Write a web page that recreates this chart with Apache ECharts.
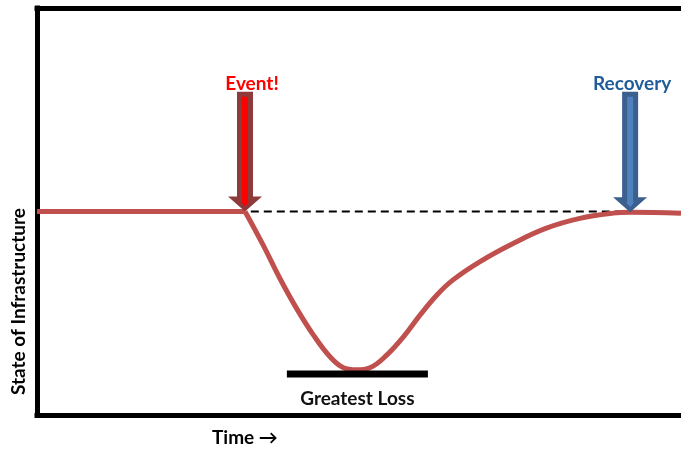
<!DOCTYPE html>
<html>
<head>
<meta charset="utf-8">
<script src="https://cdn.jsdelivr.net/npm/echarts@6/dist/echarts.min.js"></script>
<style>
  html, body { margin: 0; padding: 0; background: #fff; }
  #chart { width: 681px; height: 450px; }
</style>
</head>
<body>
<div id="chart"></div>
<script>
// time runs 0..100 across the plot, state 0..100 from bottom to top
const baseTime = [0, 32.3];
const baseState = [50, 50];

const curveTime = [32.3, 35.1, 37.7, 40.3, 42.9, 45.5, 47.6, 49.6, 51.7, 54.3, 56.9, 59.5, 62.1, 64.6, 68.8, 74.0, 79.1, 84.3, 89.5, 92.1, 100];
const curveState = [50, 41.8, 33.6, 26.2, 19.7, 14.3, 11.6, 11.1, 11.6, 14.7, 19.2, 24.6, 29.5, 33.2, 37.7, 42.2, 45.9, 48.3, 49.6, 49.8, 49.6];

const dashTime = [33.2, 91.5];
const dashState = [50, 50];

const arrowNames = ['Event!', 'Recovery'];
const arrowTime = [32.3, 92.1];
const arrowTop = [79.4, 79.4];
const arrowTip = [50, 49.8];

const lossName = 'Greatest Loss';
const lossFrom = 38.8;
const lossTo = 60.7;
const lossLevel = 10.1;

const arrowColors = [
  { outer: '#8e3a3a', inner: '#ff0000', text: '#ff0000', dx: 7 },
  { outer: '#3b5f8f', inner: '#4f81bd', text: '#1f5c99', dx: 2 }
];

const font = 'Lato, "Open Sans", sans-serif';

const chart = echarts.init(document.getElementById('chart'));

const axisLine = { show: true, lineStyle: { color: '#000', width: 5, cap: 'square' } };

chart.setOption({
  animation: false,
  grid: { left: 37, right: 0, top: 8, bottom: 35 },
  xAxis: [
    { type: 'value', min: 0, max: 100, axisLine: axisLine, axisTick: { show: false }, axisLabel: { show: false }, splitLine: { show: false } },
    { type: 'value', min: 0, max: 100, position: 'top', axisLine: axisLine, axisTick: { show: false }, axisLabel: { show: false }, splitLine: { show: false } }
  ],
  yAxis: {
    type: 'value', min: 0, max: 100,
    axisLine: axisLine, axisTick: { show: false }, axisLabel: { show: false }, splitLine: { show: false }
  },
  graphic: [
    {
      type: 'text', left: 9, top: 208,
      rotation: Math.PI / 2,
      style: { text: 'State of Infrastructure', fontFamily: font, fontWeight: 'bold', fontSize: 19, fill: '#000' }
    },
    {
      type: 'text', left: 212, top: 428,
      style: { text: 'Time \u2192', fontFamily: font, fontWeight: 'bold', fontSize: 19, fill: '#000' }
    }
  ],
  series: [
    {
      type: 'line', symbol: 'none', z: 1,
      data: dashTime.map((t, i) => [t, dashState[i]]),
      lineStyle: { color: '#000', width: 2, type: [8, 5] }
    },
    {
      type: 'line', symbol: 'none', z: 3,
      data: baseTime.map((t, i) => [t, baseState[i]]),
      lineStyle: { color: '#c0504d', width: 5 }
    },
    {
      type: 'line', symbol: 'none', z: 3, smooth: 0.4,
      data: curveTime.map((t, i) => [t, curveState[i]]),
      lineStyle: { color: '#c0504d', width: 5 }
    },
    {
      type: 'custom', z: 4,
      data: [[lossFrom, lossTo, lossLevel]],
      renderItem: function (params, api) {
        const a = api.coord([api.value(0), api.value(2)]);
        const b = api.coord([api.value(1), api.value(2)]);
        return {
          type: 'group',
          children: [
            { type: 'rect', shape: { x: a[0], y: a[1] - 3.5, width: b[0] - a[0], height: 7 }, style: { fill: '#000' } },
            { type: 'text', x: (a[0] + b[0]) / 2, y: a[1] + 25,
              style: { text: lossName, fontFamily: font, fontWeight: 'bold', fontSize: 19, fill: '#111', align: 'center', verticalAlign: 'middle' } }
          ]
        };
      }
    },
    {
      type: 'custom', z: 5,
      data: arrowTime.map((t, i) => [t, arrowTop[i], arrowTip[i]]),
      renderItem: function (params, api) {
        const i = params.dataIndex;
        const c = arrowColors[i];
        const top = api.coord([api.value(0), api.value(1)]);
        const tip = api.coord([api.value(0), api.value(2)]);
        const x = tip[0];
        const headY = tip[1] - 15;
        return {
          type: 'group',
          children: [
            { type: 'polygon',
              shape: { points: [[x, tip[1]], [x + 17, headY], [x + 8, headY], [x + 8, top[1]], [x - 8, top[1]], [x - 8, headY], [x - 17, headY]] },
              style: { fill: c.outer } },
            { type: 'polygon',
              shape: { points: [[x, tip[1] - 5], [x + 4, tip[1] - 10], [x + 3, tip[1] - 10], [x + 3, top[1] + 5], [x - 3, top[1] + 5], [x - 3, tip[1] - 10], [x - 4, tip[1] - 10]] },
              style: { fill: c.inner } },
            { type: 'text', x: x + c.dx, y: top[1] - 8,
              style: { text: arrowNames[i], fontFamily: font, fontWeight: 'bold', fontSize: 19, fill: c.text, align: 'center', verticalAlign: 'middle' } }
          ]
        };
      }
    }
  ]
});
</script>
</body>
</html>
